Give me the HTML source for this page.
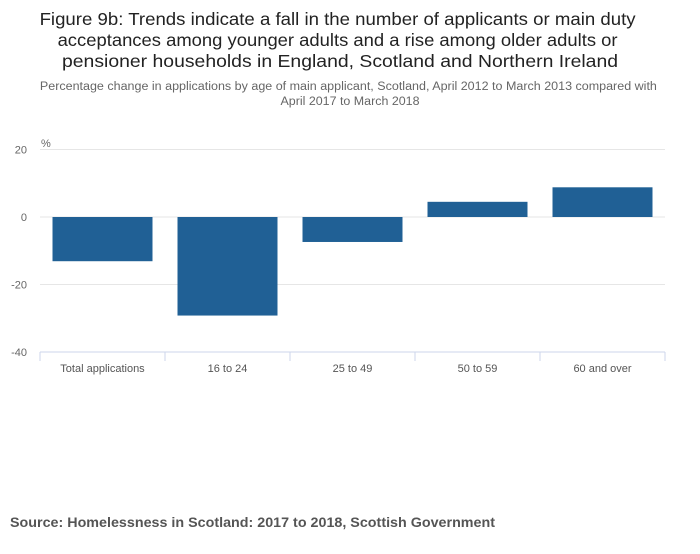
<!DOCTYPE html>
<html><head><meta charset="utf-8"><style>
body{margin:0;background:#fff;font-family:"Liberation Sans",sans-serif;}
svg text{font-family:"Liberation Sans",sans-serif;}
</style></head><body>
<svg width="700" height="549">
<text text-anchor="middle" font-size="17.5" fill="#222">
<tspan x="340" y="25" textLength="596" lengthAdjust="spacingAndGlyphs">Figure 9b: Trends indicate a fall in the number of applicants or main duty</tspan>
<tspan x="340" y="46" textLength="560" lengthAdjust="spacingAndGlyphs">acceptances among younger adults and a rise among older adults or</tspan>
<tspan x="340" y="67" textLength="556" lengthAdjust="spacingAndGlyphs">pensioner households in England, Scotland and Northern Ireland</tspan></text>
<text text-anchor="middle" font-size="11.5" fill="#666">
<tspan x="350" y="90" textLength="617" lengthAdjust="spacingAndGlyphs">Percentage change in applications by age of main applicant, Scotland, April 2012 to March 2013 compared with</tspan>
<tspan x="350" y="105" textLength="139" lengthAdjust="spacingAndGlyphs">April 2017 to March 2018</tspan></text>
<text x="41" y="147" font-size="11" fill="#666">%</text>
<g id="grid"></g><g id="bars"></g><g id="xaxis"></g>
<text x="10" y="527" font-size="13.5" font-weight="bold" fill="#555" textLength="485" lengthAdjust="spacingAndGlyphs">Source: Homelessness in Scotland: 2017 to 2018, Scottish Government</text>
</svg>
<script>
const categories=["Total applications","16 to 24","25 to 49","50 to 59","60 and over"];
const values=[-13.1,-29.2,-7.4,4.5,8.8];
const yTicks=[20,0,-20,-40];
const NS="http://www.w3.org/2000/svg";
const x0=40,x1=665,yMax=20,yMin=-40,yTop=149.5,yBot=352;
const y=v=>yTop+(yMax-v)/(yMax-yMin)*(yBot-yTop);
const bw=(x1-x0)/categories.length;
function mk(t,a,p){const e=document.createElementNS(NS,t);for(const k in a)e.setAttribute(k,a[k]);p.appendChild(e);return e;}
const g=document.getElementById('grid');
yTicks.forEach(t=>{
 if(t!==yMin){const l=mk('line',{x1:x0,x2:x1,y1:y(t),y2:y(t),stroke:'#e6e6e6'},g);
 
 }
 const tx=mk('text',{x:27,y:y(t)+4,'text-anchor':'end','font-size':11,fill:'#666'},g);tx.textContent=t;
 
 
});
const b=document.getElementById('bars');
values.forEach((v,i)=>{
 const r=mk('rect',{x:x0+i*bw+12.5,width:bw-25,y:Math.min(y(v),y(0)),height:Math.abs(y(v)-y(0)),fill:'#206095'},b);
 
 
});
const xa=document.getElementById('xaxis');
const ax=mk('line',{x1:x0,x2:x1,y1:yBot,y2:yBot,stroke:'#ccd6eb'},xa);


for(let i=0;i<=categories.length;i++){const t=mk('line',{x1:x0+i*bw,x2:x0+i*bw,y1:yBot,y2:yBot+9,stroke:'#ccd6eb'},xa);
 
 }
categories.forEach((c,i)=>{const t=mk('text',{x:x0+(i+0.5)*bw,y:372,'text-anchor':'middle','font-size':11,fill:'#555'},xa);t.textContent=c;
 
 });
</script>
</body></html>
